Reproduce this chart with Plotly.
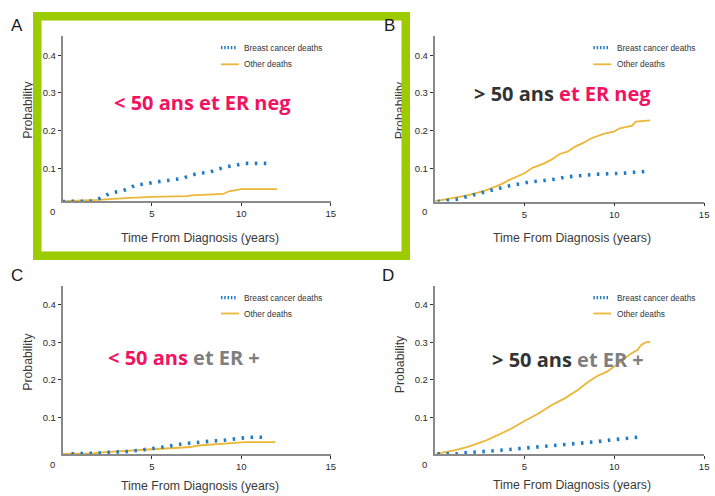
import plotly.graph_objects as go

W, H = 715, 496

# ---------------- data ----------------
A_bc_t = [0, 0.6, 1.15, 1.6, 2.2, 2.65, 3.1, 3.6, 4.1, 4.6, 5.1, 5.6, 6.16, 6.7, 7.2, 7.65, 8.2, 8.65, 9.2, 9.7, 10.2, 11.75]
A_bc = [0.012, 0.0125, 0.0125, 0.013, 0.022, 0.034, 0.038, 0.044, 0.056, 0.058, 0.063, 0.066, 0.068, 0.073, 0.082, 0.087, 0.089, 0.097, 0.104, 0.108, 0.113, 0.113]
A_ot_t = [0, 2.0, 3.5, 5.0, 7.0, 7.2, 9.0, 9.3, 10.0, 12.0]
A_ot = [0.013, 0.016, 0.021, 0.024, 0.026, 0.028, 0.032, 0.039, 0.045, 0.045]

B_bc_t = [0.17, 0.76, 1.2, 1.8, 2.3, 2.8, 3.26, 3.76, 4.27, 4.8, 5.3, 5.8, 6.34, 6.86, 7.3, 7.87, 8.4, 8.9, 9.4, 9.96, 10.5, 11.0, 11.4, 11.9]
B_bc = [0.012, 0.014, 0.017, 0.025, 0.031, 0.037, 0.043, 0.049, 0.055, 0.059, 0.064, 0.066, 0.069, 0.072, 0.077, 0.080, 0.082, 0.084, 0.085, 0.085, 0.087, 0.089, 0.091, 0.092]
B_ot_t = [0, 0.97, 1.89, 2.81, 3.73, 4.1, 5.0, 5.48, 6.1, 6.5, 6.97, 7.4, 7.8, 8.3, 8.7, 9.4, 9.97, 10.3, 11.0, 11.2, 12.0]
B_ot = [0.012, 0.020, 0.029, 0.041, 0.058, 0.068, 0.087, 0.102, 0.113, 0.123, 0.138, 0.144, 0.157, 0.168, 0.179, 0.191, 0.197, 0.206, 0.213, 0.224, 0.227]

C_bc_t = [0.5, 1.1, 1.6, 2.1, 2.6, 3.2, 3.7, 4.2, 4.7, 5.2, 5.76, 6.3, 6.8, 7.33, 7.83, 8.35, 8.87, 9.4, 9.9, 10.48, 11.5]
C_bc = [0.004, 0.004, 0.004, 0.006, 0.008, 0.008, 0.010, 0.013, 0.015, 0.019, 0.023, 0.028, 0.031, 0.033, 0.036, 0.038, 0.039, 0.041, 0.045, 0.048, 0.048]
C_ot_t = [0, 1.7, 2.24, 3.54, 4.28, 5.0, 6.5, 7.15, 7.6, 8.5, 9.46, 10.2, 11.9]
C_ot = [0.004, 0.005, 0.008, 0.011, 0.014, 0.016, 0.020, 0.022, 0.026, 0.029, 0.033, 0.035, 0.035]

D_bc_t = [0.16, 0.77, 1.24, 1.8, 2.24, 2.8, 3.3, 3.8, 4.3, 4.86, 5.4, 5.9, 6.4, 6.95, 7.44, 7.96, 8.5, 9.0, 9.5, 10.0, 10.5, 11.0, 11.5]
D_bc = [0.004, 0.004, 0.004, 0.007, 0.008, 0.010, 0.012, 0.014, 0.016, 0.018, 0.020, 0.022, 0.024, 0.027, 0.030, 0.032, 0.034, 0.036, 0.039, 0.041, 0.044, 0.047, 0.049]
D_ot_t = [0.1, 0.6, 1.15, 1.89, 2.8, 3.54, 4.28, 5.0, 5.76, 6.5, 7.24, 7.97, 8.5, 9.08, 9.6, 10.2, 10.9, 11.3, 11.5, 11.78, 12.0]
D_ot = [0.004, 0.008, 0.014, 0.023, 0.038, 0.054, 0.071, 0.091, 0.110, 0.133, 0.151, 0.173, 0.193, 0.211, 0.222, 0.243, 0.269, 0.280, 0.293, 0.300, 0.301]

x_ticks = [5, 10, 15]
y_ticks = [0.1, 0.2, 0.3, 0.4]
series_names = ["Breast cancer deaths", "Other deaths"]
x_title = "Time From Diagnosis (years)"
y_title = "Probability"
panel_letters = ["A", "B", "C", "D"]

# ---------------- style ----------------
BLUE = "#1F7BC6"
ORANGE = "#EDB637"
PINK = "#F2125F"
DARK = "#333333"
GREY = "#7F7F7F"
GREEN = "#9BCB00"
AXIS = "#8A8A8A"
TXT = "#2A2A2A"

TITLEF = "Liberation Sans, Arial, sans-serif"
SANS = "Liberation Sans, Arial, sans-serif"
BIG = "Open Sans, sans-serif"


def px_x(p):
    return p / W


def px_y(p):
    return 1 - p / H


# pixel geometry per panel: x pixel of 0, x pixel of 15, y pixel of value 0, px/unit, axis bottom px
geo = {
    "A": dict(x0=63.0, x15=333.0, y0=206.0, ys=377.0, yb=201.3),
    "B": dict(x0=437.6, x15=709.1, y0=206.0, ys=377.0, yb=201.5),
    "C": dict(x0=63.0, x15=333.0, y0=455.3, ys=377.0, yb=454.0),
    "D": dict(x0=437.6, x15=709.1, y0=455.3, ys=377.0, yb=454.0),
}
YTOP = 0.45

data = {
    "A": (A_bc_t, A_bc, A_ot_t, A_ot),
    "B": (B_bc_t, B_bc, B_ot_t, B_ot),
    "C": (C_bc_t, C_bc, C_ot_t, C_ot),
    "D": (D_bc_t, D_bc, D_ot_t, D_ot),
}

fig = go.Figure()
layout = dict(
    width=W, height=H, margin=dict(l=0, r=0, t=0, b=0),
    paper_bgcolor="white", plot_bgcolor="rgba(0,0,0,0)", showlegend=False,
)
annotations = []
shapes = []

xt_y = {"A": 238, "B": 238, "C": 486, "D": 485}
for i, key in enumerate(panel_letters):
    g = geo[key]
    sfx = "" if i == 0 else str(i + 1)
    ymin = (g["y0"] - g["yb"]) / g["ys"]
    ytop_px = g["y0"] - YTOP * g["ys"]
    layout["xaxis" + sfx] = dict(
        domain=[px_x(g["x0"]), px_x(g["x15"])], range=[0, 15], anchor="y" + sfx,
        showline=True, linecolor=AXIS, linewidth=1.5, showgrid=False, zeroline=False,
        tickvals=x_ticks, ticks="outside", ticklen=3, tickcolor="#333", tickwidth=1,
        tickfont=dict(family=SANS, size=9.5, color=TXT),
    )
    layout["yaxis" + sfx] = dict(
        domain=[px_y(g["yb"]), px_y(ytop_px)], range=[ymin, YTOP], anchor="x" + sfx,
        showline=True, linecolor=AXIS, linewidth=1.5, showgrid=False, zeroline=False,
        tickvals=y_ticks, ticks="outside", ticklen=3, tickcolor="#333", tickwidth=1,
        tickfont=dict(family=SANS, size=9.5, color=TXT),
    )
    bt, bv, ot, ov = data[key]
    fig.add_trace(go.Scatter(x=ot, y=ov, mode="lines", name=series_names[1],
                             line=dict(color=ORANGE, width=1.8),
                             xaxis="x" + sfx, yaxis="y" + sfx))
    fig.add_trace(go.Scatter(x=bt, y=bv, mode="lines", name=series_names[0],
                             line=dict(color=BLUE, width=3.6, dash="2.5px,6.5px"),
                             xaxis="x" + sfx, yaxis="y" + sfx))

    # origin "0" label
    annotations.append(dict(xref="paper", yref="paper", x=px_x(g["x0"] - 10), y=px_y(g["yb"] + 10),
                            text="0", showarrow=False, xanchor="center", yanchor="middle",
                            font=dict(family=SANS, size=9.5, color=TXT)))
    # x axis title
    annotations.append(dict(xref="paper", yref="paper", x=px_x((g["x0"] + g["x15"]) / 2 + 3),
                            y=px_y(xt_y[key]), text=x_title, showarrow=False,
                            xanchor="center", yanchor="middle",
                            font=dict(family=TITLEF, size=12.3, color="#3A3A3A")))

# y axis titles ("Probability"); B's is mostly hidden behind the green frame
ytitle_pos = {"A": (28, 110), "B": (403, 110), "C": (28, 362), "D": (403, 364)}
for key in ["B", "A", "C", "D"]:
    px, py = ytitle_pos[key]
    annotations.append(dict(xref="paper", yref="paper", x=px_x(px), y=px_y(py), text=y_title,
                            showarrow=False, textangle=-90, xanchor="center", yanchor="middle",
                            font=dict(family=TITLEF, size=12.3, color="#3A3A3A")))

# green highlight frame (drawn as an annotation box so it covers B's y title)
bw = 8.5
annotations.append(dict(xref="paper", yref="paper", x=px_x(33), y=px_y(12),
                        xanchor="left", yanchor="top", text="&nbsp;", showarrow=False,
                        width=377 - 2 * bw, height=248 - 2 * bw, borderpad=0,
                        borderwidth=bw, bordercolor=GREEN, bgcolor="rgba(0,0,0,0)"))

# panel letters
letter_pos = {"A": (17.5, 25), "B": (392, 26), "C": (17, 275), "D": (391, 275)}
for key, (px, py) in letter_pos.items():
    annotations.append(dict(xref="paper", yref="paper", x=px_x(px), y=px_y(py), text=key,
                            showarrow=False, xanchor="center", yanchor="middle",
                            font=dict(family=SANS, size=17, color="#1A1A1A")))

# legends (drawn by hand: short symbols like the original)
legend_pos = {"A": (222.5, 47.7, 64.3), "B": (597.5, 47.7, 64.3),
              "C": (222.5, 297.7, 313.5), "D": (597.5, 297.7, 313.5)}
for key, (lx, ly1, ly2) in legend_pos.items():
    shapes.append(dict(type="line", xref="paper", yref="paper",
                       x0=px_x(lx), x1=px_x(lx + 15), y0=px_y(ly1), y1=px_y(ly1),
                       line=dict(color=BLUE, width=3.2, dash="1.5px,1.8px")))
    shapes.append(dict(type="line", xref="paper", yref="paper",
                       x0=px_x(lx), x1=px_x(lx + 18), y0=px_y(ly2), y1=px_y(ly2),
                       line=dict(color=ORANGE, width=1.8)))
    for nm, yy in zip(series_names, [ly1, ly2]):
        annotations.append(dict(xref="paper", yref="paper", x=px_x(lx + 21.5), y=px_y(yy),
                                text=nm, showarrow=False, xanchor="left", yanchor="middle",
                                font=dict(family=SANS, size=8.3, color="#333")))

# big group labels
def span(t, c):
    return '<span style="color:%s">%s</span>' % (c, t)

labels = {
    "A": (204, 103, span("&lt; 50 ans et ER neg", PINK)),
    "B": (566, 93, span("&gt; 50 ans", DARK) + " " + span("et ER neg", PINK)),
    "C": (185, 357, span("&lt; 50 ans", PINK) + " " + span("et ER +", GREY)),
    "D": (572, 359, span("&gt; 50 ans", DARK) + " " + span("et ER +", GREY)),
}
for key, (px, py, txt) in labels.items():
    annotations.append(dict(xref="paper", yref="paper", x=px_x(px), y=px_y(py), text=txt,
                            showarrow=False, xanchor="center", yanchor="middle",
                            font=dict(family=BIG, size=20, color=DARK, weight="bold")))

layout["annotations"] = annotations
layout["shapes"] = shapes
fig.update_layout(**layout)
fig.write_html("out.html")
